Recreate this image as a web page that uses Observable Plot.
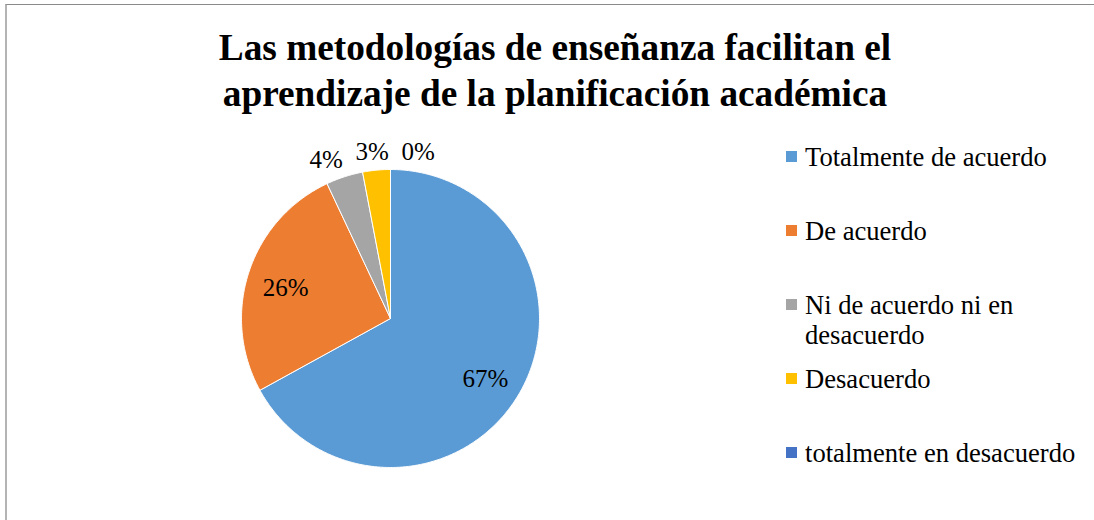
<!DOCTYPE html>
<html>
<head>
<meta charset="utf-8">
<script src="https://cdn.jsdelivr.net/npm/d3@7"></script>
<script src="https://cdn.jsdelivr.net/npm/@observablehq/plot@0.6"></script>
<style>
  html, body { margin: 0; padding: 0; background: #fff; }
  #chart { position: relative; width: 1094px; height: 520px; overflow: hidden;
           font-family: "Liberation Serif", "Times New Roman", serif; color: #000; }
  #frame { position: absolute; left: 5px; top: 4px; width: 1100px; height: 530px;
           border-top: 1px solid #8a8a8a; border-left: 2px solid #b4b4b4; box-sizing: border-box; }
  #title { position: absolute; left: 0; width: 1110px; top: 25px; text-align: center;
           font-weight: bold; font-size: 37.3px; line-height: 46px; }
  #plot { position: absolute; left: 0; top: 0; }
  #plot svg { overflow: visible; }
  .item { position: absolute; left: 786px; width: 305px; display: flex; align-items: flex-start;
          font-size: 26.6px; line-height: 30px; }
  .sw { flex: 0 0 11px; width: 11px; height: 11px; margin-top: 9px; margin-right: 8px; }
  .txt { width: 285px; }
</style>
</head>
<body>
<div id="chart">
  <div id="frame"></div>
  <div id="plot"></div>
  <div id="title">Las metodologías de enseñanza facilitan el<br>aprendizaje de la planificación académica</div>
  <div id="legend"></div>
</div>
<script>
// ---- data ----
const categories = ["Totalmente de acuerdo", "De acuerdo", "Ni de acuerdo ni en desacuerdo", "Desacuerdo", "totalmente en desacuerdo"];
const values = [67, 26, 4, 3, 0];
const labels = ["67%", "26%", "4%", "3%", "0%"];
const palette = ["#5B9BD5", "#ED7D31", "#A5A5A5", "#FFC000", "#4472C4"];

// ---- layout ----
const W = 1094, H = 520, cx = 390, cy = 318, R = 149;
const FONT = '"Liberation Serif", "Times New Roman", serif';

const rows = categories.map((c, i) => ({cat: c, value: values[i], label: labels[i]}));
const arcs = d3.pie().sort(null).value(d => d.value).startAngle(0).endAngle(2 * Math.PI)(rows);

// slice polygons
const pts = [];
arcs.forEach(a => {
  if (a.endAngle - a.startAngle <= 0) return;
  const cat = a.data.cat;
  pts.push({cat, x: 0, y: 0});
  const n = Math.max(2, Math.ceil((a.endAngle - a.startAngle) / 0.01));
  for (let k = 0; k <= n; k++) {
    const t = a.startAngle + (a.endAngle - a.startAngle) * k / n;
    pts.push({cat, x: Math.sin(t), y: Math.cos(t)});
  }
  pts.push({cat, x: 0, y: 0});
});

// labels: inside for large slices, outside (spread) for small ones
const inside = [], outside = [];
arcs.forEach(a => {
  const mid = (a.startAngle + a.endAngle) / 2;
  if (a.data.value > 10) {
    inside.push({text: a.data.label, x: 0.74 * Math.sin(mid), y: 0.74 * Math.cos(mid)});
  } else {
    outside.push({text: a.data.label, x: 1.12 * Math.sin(mid), y: 1.12 * Math.cos(mid)});
  }
});
if (outside.length > 1) {
  outside.sort((p, q) => p.x - q.x);
  const gap = 46 / R;
  const mean = d3.mean(outside, d => d.x) + 4 / R;
  outside.forEach((d, i) => { d.x = mean + (i - (outside.length - 1) / 2) * gap; });
}

const plot = Plot.plot({
  width: W, height: H,
  margin: 0,
  x: {domain: [-cx / R, (W - cx) / R], range: [0, W], axis: null},
  y: {domain: [-(H - cy) / R, cy / R], range: [H, 0], axis: null},
  color: {domain: categories, range: palette},
  style: {background: "transparent", fontFamily: FONT},
  marks: [
    Plot.line(pts, {x: "x", y: "y", z: "cat", fill: "cat", stroke: "#ffffff", strokeWidth: 1, curve: "linear"}),
    Plot.text(inside, {x: "x", y: "y", text: "text", fontSize: 25, fill: "#000", fontFamily: FONT, dy: 4}),
    Plot.text(outside, {x: "x", y: "y", text: "text", fontSize: 25, fill: "#000", fontFamily: FONT})
  ]
});
document.getElementById("plot").appendChild(plot);

// legend
const legend = document.getElementById("legend");
categories.forEach((c, i) => {
  const item = document.createElement("div");
  item.className = "item";
  item.style.top = (142 + i * 74) + "px";
  const sw = document.createElement("span");
  sw.className = "sw";
  sw.style.background = palette[i];
  const tx = document.createElement("span");
  tx.className = "txt";
  tx.textContent = c;
  item.appendChild(sw); item.appendChild(tx);
  legend.appendChild(item);
});
</script>
</body>
</html>
